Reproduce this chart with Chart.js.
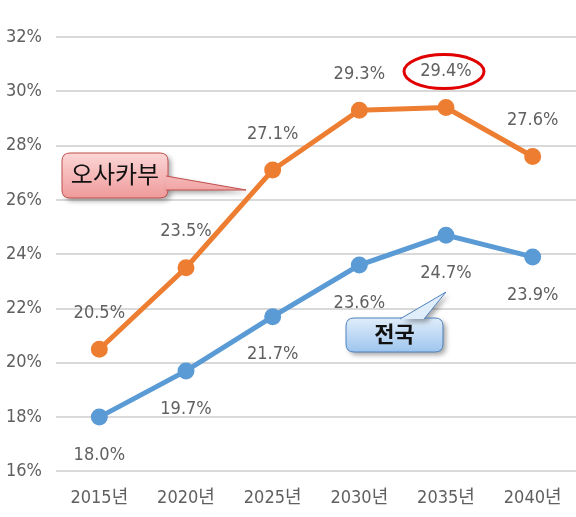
<!DOCTYPE html>
<html>
<head>
<meta charset="utf-8">
<script src="https://cdn.jsdelivr.net/npm/chart.js@4"></script>
<style>
  html, body { margin: 0; padding: 0; background: #fff; }
  #wrap { width: 576px; height: 517px; }
</style>
</head>
<body>
<div id="wrap"><canvas id="lineChart" width="576" height="517"></canvas></div>
<script>
// data
const years = ['2015년', '2020년', '2025년', '2030년', '2035년', '2040년'];
const osakaValues = [20.5, 23.5, 27.1, 29.3, 29.4, 27.6];
const nationalValues = [18.0, 19.7, 21.7, 23.6, 24.7, 23.9];
const yTicks = [16, 18, 20, 22, 24, 26, 28, 30, 32];

const FONT = "'DejaVu Sans Condensed', 'Noto Sans CJK KR', sans-serif";
const ORANGE = '#ED7D31';
const BLUE = '#5B9BD5';

function roundRect(ctx, x, y, w, h, r) {
    ctx.beginPath();
    ctx.moveTo(x + r, y);
    ctx.lineTo(x + w - r, y);
    ctx.quadraticCurveTo(x + w, y, x + w, y + r);
    ctx.lineTo(x + w, y + h - r);
    ctx.quadraticCurveTo(x + w, y + h, x + w - r, y + h);
    ctx.lineTo(x + r, y + h);
    ctx.quadraticCurveTo(x, y + h, x, y + h - r);
    ctx.lineTo(x, y + r);
    ctx.quadraticCurveTo(x, y, x + r, y);
    ctx.closePath();
}

// value labels, callout bubbles and the red oval
const decorPlugin = {
    id: 'decor',
    afterDatasetsDraw(chart) {
        const ctx = chart.ctx;
        const xs = chart.scales.x;
        const ys = chart.scales.y;
        ctx.save();
        ctx.font = '18px ' + FONT;
        ctx.fillStyle = '#606060';
        ctx.textAlign = 'center';
        ctx.textBaseline = 'middle';
        osakaValues.forEach((v, i) => {
            ctx.fillText(v.toFixed(1) + '%', xs.getPixelForValue(i), ys.getPixelForValue(v) - 36);
        });
        nationalValues.forEach((v, i) => {
            ctx.fillText(v.toFixed(1) + '%', xs.getPixelForValue(i), ys.getPixelForValue(v) + 38);
        });

        // red oval around the 2035 peak label
        const ox = xs.getPixelForValue(4);
        const oy = ys.getPixelForValue(osakaValues[4]) - 36;
        ctx.beginPath();
        ctx.ellipse(ox - 2, oy, 40, 17, 0, 0, Math.PI * 2);
        ctx.strokeStyle = '#E00000';
        ctx.lineWidth = 3;
        ctx.stroke();

        // 오사카부 bubble
        drawBubble(ctx, {
            x: 62, y: 153, w: 106, h: 45,
            tail: [[166, 176], [166, 190], [246, 190]],
            top: '#fcd6d6', bottom: '#ef9a9a', border: '#c0504d',
            text: '오사카부', font: '24px ' + FONT
        });
        // 전국 bubble
        drawBubble(ctx, {
            x: 346, y: 318, w: 97, h: 34,
            tail: [[400, 319], [424, 319], [446, 292]],
            top: '#e0edfa', bottom: '#9ec5ee', border: '#4f81bd',
            text: '전국', font: 'bold 22px ' + FONT
        });
        ctx.restore();
    }
};

function drawBubble(ctx, b) {
    const grad = () => {
        const g = ctx.createLinearGradient(0, b.y, 0, b.y + b.h);
        g.addColorStop(0, b.top);
        g.addColorStop(1, b.bottom);
        return g;
    };
    ctx.save();
    ctx.shadowColor = 'rgba(0,0,0,0.35)';
    ctx.shadowBlur = 5;
    ctx.shadowOffsetX = 3;
    ctx.shadowOffsetY = 3;
    ctx.fillStyle = grad();
    roundRect(ctx, b.x, b.y, b.w, b.h, 8);
    ctx.fill();
    ctx.beginPath();
    ctx.moveTo(b.tail[0][0], b.tail[0][1]);
    ctx.lineTo(b.tail[2][0], b.tail[2][1]);
    ctx.lineTo(b.tail[1][0], b.tail[1][1]);
    ctx.closePath();
    ctx.fill();
    ctx.restore();

    ctx.save();
    ctx.strokeStyle = b.border;
    ctx.lineWidth = 1;
    roundRect(ctx, b.x, b.y, b.w, b.h, 8);
    ctx.stroke();
    ctx.fillStyle = grad();
    ctx.beginPath();
    ctx.moveTo(b.tail[0][0], b.tail[0][1]);
    ctx.lineTo(b.tail[2][0], b.tail[2][1]);
    ctx.lineTo(b.tail[1][0], b.tail[1][1]);
    ctx.fill();
    ctx.stroke();
    ctx.fillStyle = '#111';
    ctx.font = b.font;
    ctx.textAlign = 'center';
    ctx.textBaseline = 'middle';
    ctx.fillText(b.text, b.x + b.w / 2, b.y + b.h / 2 + 1);
    ctx.restore();
}

new Chart(document.getElementById('lineChart'), {
    type: 'line',
    data: {
        labels: years,
        datasets: [{
            label: '오사카부',
            data: osakaValues,
            borderColor: ORANGE,
            backgroundColor: ORANGE,
            borderWidth: 5,
            pointRadius: 6,
            pointHoverRadius: 6
        }, {
            label: '전국',
            data: nationalValues,
            borderColor: BLUE,
            backgroundColor: BLUE,
            borderWidth: 5,
            pointRadius: 6,
            pointHoverRadius: 6
        }]
    },
    options: {
        responsive: false,
        animation: false,
        layout: { autoPadding: false, padding: { top: 37, right: 0, left: 0, bottom: 0 } },
        plugins: {
            legend: { display: false },
            tooltip: { enabled: false }
        },
        scales: {
            x: {
                offset: true,
                afterFit: axis => { axis.paddingLeft = 0; axis.paddingRight = 0; },
                grid: { display: false },
                border: { display: false },
                ticks: { color: '#606060', font: { family: FONT, size: 18 }, padding: 8, maxRotation: 0 }
            },
            y: {
                min: 16,
                max: 32,
                afterBuildTicks: axis => { axis.ticks = yTicks.map(v => ({ value: v })); },
                afterFit: axis => { axis.width = 56; },
                grid: { color: '#d9d9d9', lineWidth: 2, drawTicks: false },
                border: { display: false },
                ticks: {
                    color: '#606060',
                    font: { family: FONT, size: 18 },
                    padding: 14,
                    callback: v => v + '%'
                }
            }
        }
    },
    plugins: [decorPlugin]
});
</script>
</body>
</html>
